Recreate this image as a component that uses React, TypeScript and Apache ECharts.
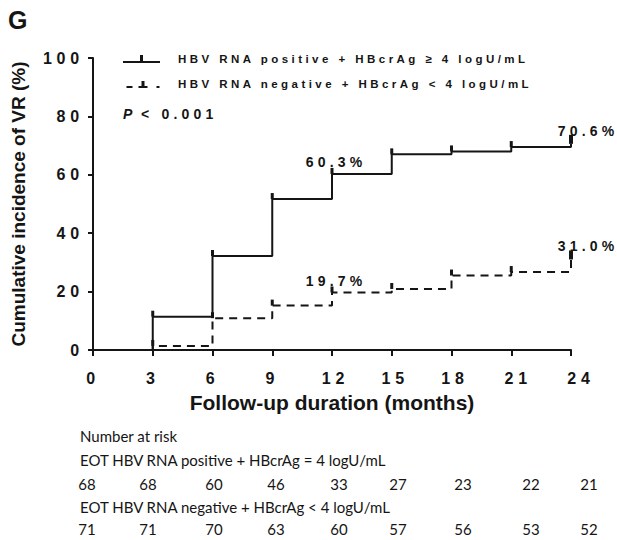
import React, { useEffect, useRef } from "react";
import * as echarts from "echarts";

// ---------- data ----------
const months = [0, 3, 6, 9, 12, 15, 18, 21, 24];
const yTicks = [0, 20, 40, 60, 80, 100];
const positiveVR = [0, 11.4, 32.2, 51.7, 60.3, 67.0, 68.0, 69.5, 70.6];
const negativeVR = [0, 1.4, 10.9, 15.2, 19.7, 20.9, 25.5, 26.7, 31.0];
const labeledMonths = [12, 24];
const seriesNames = [
  "HBV RNA positive + HBcrAg ≥ 4 logU/mL",
  "HBV RNA negative + HBcrAg < 4 logU/mL",
];
const panelLetter = "G";
const pValueLabel = "P";
const pValueText = "< 0.001";
const xAxisTitle = "Follow-up duration (months)";
const yAxisTitle = "Cumulative incidence of VR (%)";
const riskTitle = "Number at risk";
const riskGroupNames = [
  "EOT HBV RNA positive + HBcrAg = 4 logU/mL",
  "EOT HBV RNA negative + HBcrAg < 4 logU/mL",
];
const riskPositive = [68, 68, 60, 46, 33, 27, 23, 22, 21];
const riskNegative = [71, 71, 70, 63, 60, 57, 56, 53, 52];

// ---------- layout / style ----------
const INK = "#151515";
const FONT_SPACED = "Liberation Sans, Arial"; // letter-spaced via CSS
const FONT_PLAIN = "Liberation Sans";
const FONT_RISK = "Lato";
const riskColumnX = [87, 148, 214, 276, 339, 398, 463, 531, 589];
const riskRowY = [436, 460, 484, 507, 529];
const xLabelPad: Record<number, string> = { 0: "a", 3: "a", 6: "a", 9: "a", 12: "b", 15: "b", 18: "b", 21: "c", 24: "d" };

function buildData(values: number[]) {
  const last = values.length - 1;
  return months.map((m, i) => {
    const h = i === last ? 9 : 6;
    const item: any = {
      value: [m, values[i]],
      symbol: i === 0 ? "none" : "rect",
      symbolSize: [i === last ? 4 : 3, h],
      symbolOffset: [0, -h / 2],
    };
    if (labeledMonths.includes(m)) {
      item.label = {
        show: true,
        position: "top",
        distance: 0,
        offset: m === 24 ? [17, 3] : [4, 1.5],
      };
    }
    return item;
  });
}

export default function App() {
  const ref = useRef<HTMLDivElement>(null);

  useEffect(() => {
    if (!ref.current) return;
    const chart = echarts.init(ref.current, undefined, { renderer: "svg" });

    const labelStyle = {
      fontFamily: FONT_SPACED,
      fontWeight: "bold" as const,
      fontSize: 14,
      color: INK,
      formatter: (p: any) => `${p.value[1].toFixed(1)}%`,
    };

    const riskFont = `15px ${FONT_RISK}`;
    const riskTexts: any[] = [];
    riskTexts.push({
      type: "text",
      style: { text: riskTitle, x: 80, y: riskRowY[0], fill: INK, font: riskFont, verticalAlign: "middle" },
    });
    [riskPositive, riskNegative].forEach((row, r) => {
      riskTexts.push({
        type: "text",
        style: { text: riskGroupNames[r], x: 80, y: riskRowY[1 + r * 2], fill: INK, font: riskFont, verticalAlign: "middle" },
      });
      row.forEach((n, i) => {
        riskTexts.push({
          type: "text",
          style: {
            text: String(n),
            x: riskColumnX[i],
            y: riskRowY[2 + r * 2],
            fill: INK,
            font: riskFont,
            align: "center",
            verticalAlign: "middle",
          },
        });
      });
    });

    const richX = (pad: number) => ({
      fontFamily: FONT_SPACED,
      fontWeight: "bold",
      fontSize: 16,
      color: INK,
      padding: [0, 0, 0, pad],
    });

    const option: any = {
      animation: false,
      backgroundColor: "#ffffff",
      grid: { left: 93, right: 46, top: 58, bottom: 190, containLabel: false, outerBoundsMode: "none" },
      legend: {
        orient: "vertical",
        left: 123,
        top: 53,
        padding: 0,
        itemWidth: 37,
        itemHeight: 8,
        itemGap: 13,
        selectedMode: false,
        itemStyle: { color: INK, borderWidth: 0 },
        textStyle: { fontFamily: FONT_SPACED, fontWeight: "bold", fontSize: 11.5, color: INK, padding: [0, 0, 0, 13] },
        data: [
          { name: seriesNames[0], icon: "path://M0,6h37v2h-37z M17,0h3v6h-3z" },
          { name: seriesNames[1], icon: "path://M3,6h6v2h-6z M15,6h9v2h-9z M18,1h3v5h-3z M33,6h3v2h-3z M0,0h0.01v0.01h-0.01z" },
        ],
      },
      xAxis: {
        type: "value",
        min: 0,
        max: 24,
        interval: 3,
        name: xAxisTitle,
        nameLocation: "middle",
        nameGap: 42,
        nameTextStyle: { fontFamily: FONT_PLAIN, fontWeight: "bold", fontSize: 21, color: INK },
        axisLine: { show: true, lineStyle: { color: INK, width: 2 } },
        axisTick: { show: true, length: 6, lineStyle: { color: INK, width: 2 } },
        axisLabel: {
          margin: 20,
          fontFamily: FONT_SPACED,
          fontWeight: "bold",
          fontSize: 16,
          color: INK,
          formatter: (v: number) => `{${xLabelPad[v] || "a"}|${v}}`,
          rich: { a: richX(0), b: richX(7), c: richX(14), d: richX(20) },
        },
        splitLine: { show: false },
      },
      yAxis: {
        type: "value",
        min: yTicks[0],
        max: yTicks[yTicks.length - 1],
        interval: 20,
        name: yAxisTitle,
        nameLocation: "middle",
        nameGap: 65,
        nameTextStyle: { fontFamily: FONT_PLAIN, fontWeight: "bold", fontSize: 19, color: INK },
        axisLine: { show: true, lineStyle: { color: INK, width: 2 } },
        axisTick: { show: true, length: 5, lineStyle: { color: INK, width: 2 } },
        axisLabel: { margin: 9, fontFamily: FONT_SPACED, fontWeight: "bold", fontSize: 16, color: INK },
        splitLine: { show: false },
      },
      series: [
        {
          name: seriesNames[0],
          type: "line",
          step: "end",
          color: INK,
          lineStyle: { color: INK, width: 2, type: "solid" },
          itemStyle: { color: INK },
          label: labelStyle,
          emphasis: { disabled: true },
          data: buildData(positiveVR),
          z: 3,
        },
        {
          name: seriesNames[1],
          type: "line",
          step: "end",
          color: INK,
          lineStyle: { color: INK, width: 2, type: [8, 6] },
          itemStyle: { color: INK },
          label: labelStyle,
          emphasis: { disabled: true },
          data: buildData(negativeVR),
          z: 2,
        },
      ],
      graphic: [
        {
          type: "text",
          style: { text: panelLetter, x: 8, y: 20, fill: INK, font: `bold 25px ${FONT_PLAIN}`, verticalAlign: "middle" },
        },
        {
          type: "text",
          style: {
            text: pValueLabel,
            x: 123,
            y: 114,
            fill: INK,
            font: `italic bold 14px ${FONT_PLAIN}`,
            verticalAlign: "middle",
          },
        },
        {
          type: "text",
          style: {
            text: pValueText,
            x: 141,
            y: 114,
            fill: INK,
            font: `bold 14px ${FONT_SPACED}`,
            verticalAlign: "middle",
          },
        },
        ...riskTexts,
      ],
    };

    chart.setOption(option);
    return () => chart.dispose();
  }, []);

  return (
    <>
      <style>{`#vr-chart text[style*="Arial"]{letter-spacing:0.3em}`}</style>
      <div
        id="vr-chart"
        ref={ref}
        style={{ position: "fixed", left: 0, top: 0, width: 617, height: 540, background: "#fff" }}
      />
    </>
  );
}
